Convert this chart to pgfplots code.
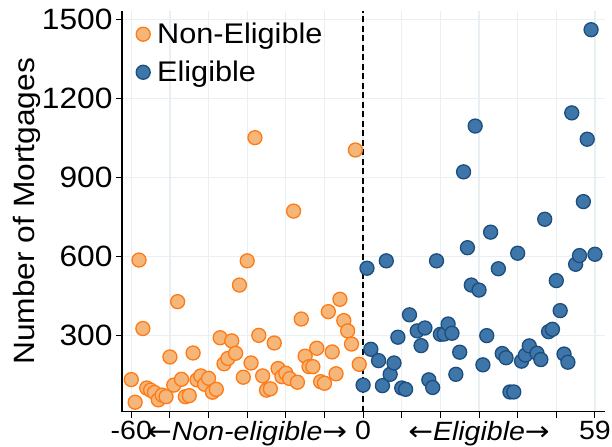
\documentclass[border=0pt]{standalone}
\usepackage{pgfplots}
\pgfplotsset{compat=1.18}
\usepackage{fontspec}
\setmainfont{Liberation Sans}[FakeStretch=1.08]
\newfontfamily\arrowfont{DejaVu Sans}[FakeStretch=1.12]
\definecolor{orfill}{RGB}{245,182,122}
\definecolor{oredge}{RGB}{255,122,20}
\definecolor{blfill}{RGB}{62,118,170}
\definecolor{bledge}{RGB}{28,78,125}
\definecolor{gridc}{RGB}{232,240,243}
\newcommand{\lar}{{\arrowfont ←}}
\newcommand{\rar}{{\arrowfont →}}
\pgfplotstableread{
x y
-60 133
-59 47
-58 587
-57 327
-56 101
-55 93
-54 84
-53 56
-52 74
-51 68
-50 219
-49 112
-48 429
-47 134
-46 68
-45 72
-44 234
-43 132
-42 147
-41 115
-40 138
-39 85
-38 96
-37 292
-36 193
-35 213
-34 280
-33 233
-32 492
-31 142
-30 584
-29 196
-28 1052
-27 301
-26 147
-25 93
-24 98
-23 272
-22 175
-21 144
-20 157
-19 137
-18 773
-17 123
-16 363
-15 222
-14 182
-13 182
-12 252
-11 125
-10 119
-9 391
-8 238
-7 155
-6 438
-5 357
-4 318
-3 268
-2 1005
-1 191
}\noneligible
\pgfplotstableread{
x y
0 112
1 556
2 248
4 205
5 110
6 584
7 153
8 196
9 294
10 101
11 96
12 379
14 318
15 262
16 329
17 132
18 103
19 584
20 305
21 306
22 344
23 309
24 153
25 237
26 922
27 634
28 492
29 1096
30 473
31 189
32 300
33 693
35 554
36 232
37 216
38 86
39 86
40 613
41 203
42 226
43 261
45 233
46 209
47 742
48 315
49 324
50 509
51 395
52 230
53 199
54 1146
55 571
56 604
57 809
58 1046
59 1462
60 609
}\eligible
\begin{document}
\begin{tikzpicture}
\begin{axis}[
  at={(0,0)}, anchor=south west,
  scale only axis, width=483bp, height=400.7bp,
  xmin=-62.4, xmax=62.6, ymin=11, ymax=1533,
  axis x line*=bottom, axis y line*=left,
  axis line style={black, line width=1.2bp},
  xtick={-60,-50,...,60},
  xticklabels={-60,,,{\lar\textit{Non-eligible}\rar},,,0,,,{\lar\textit{Eligible}\rar},,,59},
  ytick={300,600,900,1200,1500},
  tick align=outside, major tick length=6bp,
  tick style={black, line width=1bp},
  grid=major, grid style={gridc, line width=1.3bp},
  xticklabel style={font=\fontsize{26.5}{30}\selectfont},
  yticklabel style={font=\fontsize{29.5}{34}\selectfont},
  /pgf/number format/assume math mode=true,
  /pgf/number format/1000 sep={},
  ylabel={Number of Mortgages},
  ylabel style={font=\fontsize{29.5}{34}\selectfont, at={(axis description cs:-0.2257,0.5)}, anchor=north, inner sep=0pt},
  legend style={at={(axis description cs:0,1)}, anchor=north west, draw=none, fill=none,
    font=\fontsize{28.5}{33}\selectfont, xshift=11bp, yshift=-8bp, row sep=12bp, column sep=5bp},
  legend cell align=left,
]
\addplot[black, line width=1.6bp, dash pattern=on 6bp off 3.5bp, forget plot] coordinates {(0,11) (0,1533)};
\addplot[only marks, mark=*, mark size=7bp, mark options={fill=orfill, draw=oredge, line width=1.3bp}] table[x=x,y=y] {\noneligible};
\addlegendentry{Non-Eligible}
\addplot[only marks, mark=*, mark size=7bp, mark options={fill=blfill, draw=bledge, line width=1.3bp}] table[x=x,y=y] {\eligible};
\addlegendentry{Eligible}
\end{axis}
\pgfresetboundingbox
\path[use as bounding box] (-122bp,-35.3bp) rectangle (490bp,411.7bp);
\end{tikzpicture}
\end{document}
